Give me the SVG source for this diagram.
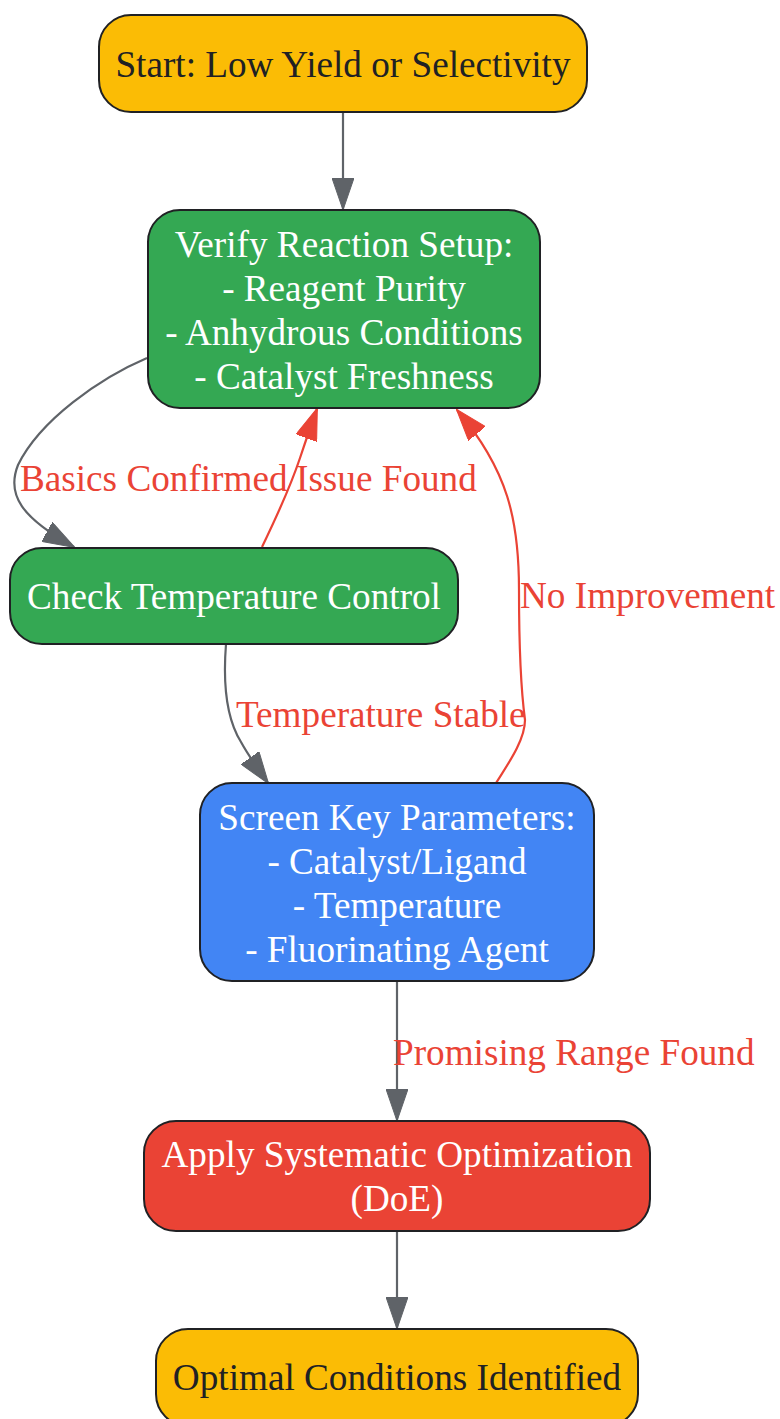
<svg xmlns="http://www.w3.org/2000/svg" width="780" height="1419" viewBox="0 0 780 1419">
<style>
.node rect{stroke:#202124;stroke-width:2}
.t{font-family:"Liberation Serif","Times New Roman",serif;font-size:37.2px;text-anchor:middle}
.dark{fill:#202124}
.light{fill:#ffffff}
.lbl{font-family:"Liberation Serif","Times New Roman",serif;font-size:37.2px;fill:#EA4335}
.eg{fill:none;stroke:#5F6368;stroke-width:2.2;marker-end:url(#ag)}
.er{fill:none;stroke:#EA4335;stroke-width:2.2;marker-end:url(#ar)}
</style>
<defs>
<marker id="ag" markerUnits="userSpaceOnUse" viewBox="0 0 32 22" refX="31" refY="11" markerWidth="32" markerHeight="22" orient="auto"><path d="M0,0 L32,11 L0,22 Z" fill="#5F6368" stroke="#5F6368" stroke-width="1"/></marker>
<marker id="ar" markerUnits="userSpaceOnUse" viewBox="0 0 32 22" refX="31" refY="11" markerWidth="32" markerHeight="22" orient="auto"><path d="M0,0 L32,11 L0,22 Z" fill="#EA4335" stroke="#EA4335" stroke-width="1"/></marker>
</defs>
<g id="edges">
<path class="eg" d="M343,112 L343,209"/>
<path class="eg" d="M147,358 C100,378 40,420 18,465 C6,495 22,518 74,547"/>
<path class="er" d="M262,547 C276,518 290,488 300,458 C305,443 310,428 317,409"/>
<path class="eg" d="M226,644 C223,682 226,718 241,742 C248,755 258,769 268,783"/>
<path class="er" d="M496,783 C508,764 525,740 525,720 C521,690 519,640 519,590 C519,520 508,470 457,410"/>
<path class="eg" d="M397,981 L397,1120"/>
<path class="eg" d="M397,1231 L397,1328"/>
<text class="lbl" x="20" y="491">Basics Confirmed</text>
<text class="lbl" x="296" y="491">Issue Found</text>
<text class="lbl" x="520" y="608">No Improvement</text>
<text class="lbl" x="236" y="727">Temperature Stable</text>
<text class="lbl" x="393" y="1065">Promising Range Found</text>
</g>
<g id="start" class="node">
<rect x="99" y="15" width="488" height="97" rx="32" fill="#FBBC05"/>
<text class="t dark" x="343" y="77">Start: Low Yield or Selectivity</text>
</g>
<g id="verify" class="node">
<rect x="148" y="210" width="392" height="198" rx="32" fill="#34A853"/>
<text class="t light" x="344" y="257">Verify Reaction Setup:</text>
<text class="t light" x="344" y="301">- Reagent Purity</text>
<text class="t light" x="344" y="345">- Anhydrous Conditions</text>
<text class="t light" x="344" y="389">- Catalyst Freshness</text>
</g>
<g id="check" class="node">
<rect x="10" y="548" width="448" height="96" rx="32" fill="#34A853"/>
<text class="t light" x="234" y="609">Check Temperature Control</text>
</g>
<g id="screen" class="node">
<rect x="200" y="783" width="394" height="198" rx="32" fill="#4285F4"/>
<text class="t light" x="397" y="830">Screen Key Parameters:</text>
<text class="t light" x="397" y="874">- Catalyst/Ligand</text>
<text class="t light" x="397" y="918">- Temperature</text>
<text class="t light" x="397" y="962">- Fluorinating Agent</text>
</g>
<g id="apply" class="node">
<rect x="144" y="1121" width="506" height="110" rx="32" fill="#EA4335"/>
<text class="t light" x="397" y="1167">Apply Systematic Optimization</text>
<text class="t light" x="397" y="1211">(DoE)</text>
</g>
<g id="optimal" class="node">
<rect x="156" y="1329" width="482" height="97" rx="32" fill="#FBBC05"/>
<text class="t dark" x="397" y="1390">Optimal Conditions Identified</text>
</g>
</svg>
